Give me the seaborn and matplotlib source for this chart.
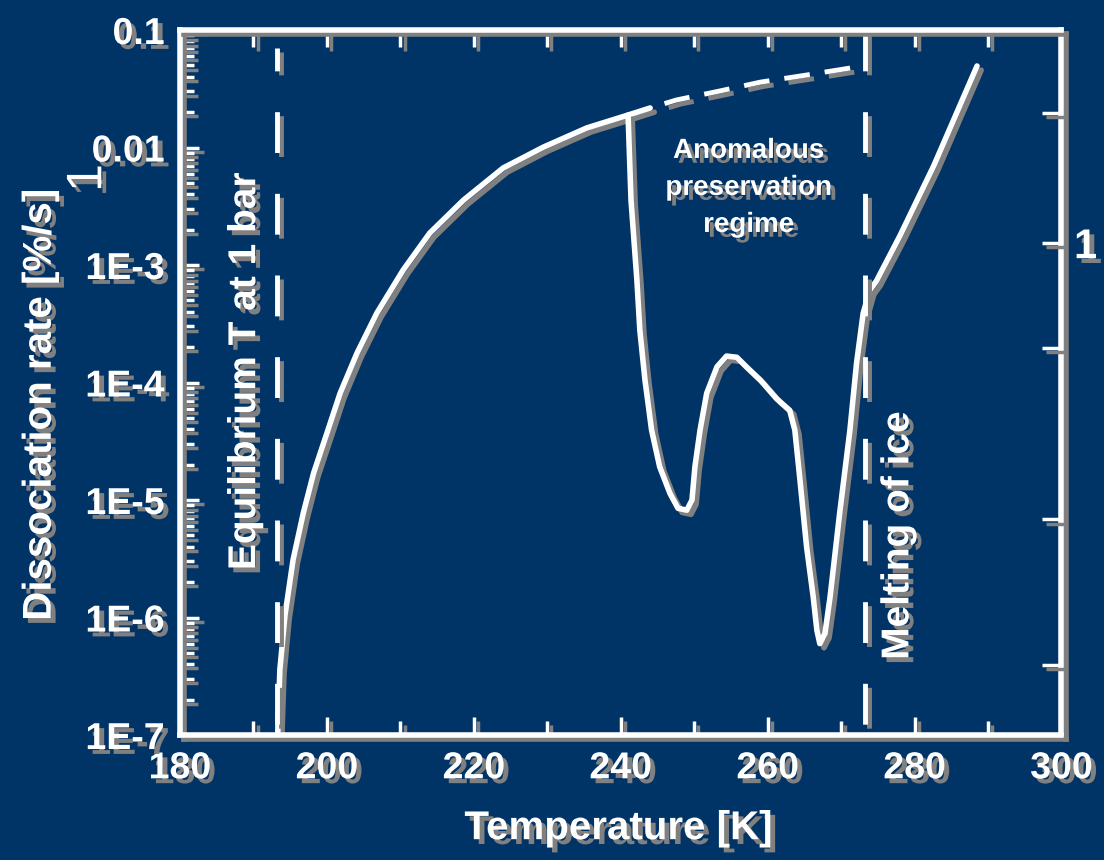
import numpy as np
import pandas as pd
import matplotlib
matplotlib.use("Agg")
import matplotlib.pyplot as plt
import matplotlib.patheffects as pe
from matplotlib.ticker import FixedLocator, FixedFormatter, NullFormatter, LogLocator
import seaborn as sns

BG = "#003366"
SHADE = "#808080"

# normal dissociation branch (from equilibrium T up to ~244 K)
t_low = [193.3, 193.6, 194.3, 195.4, 196.8, 198.2, 200.0, 201.8, 204.1, 206.8, 210.4, 214.0,
         218.6, 224.0, 229.5, 235.4, 241.0, 244.0]
r_low = [1e-7, 3.6e-7, 1.05e-6, 3.1e-6, 7.8e-6, 1.7e-5, 3.7e-5, 8.1e-5, 1.78e-4, 3.9e-4,
         9.1e-4, 1.87e-3, 3.57e-3, 6.7e-3, 1.01e-2, 1.47e-2, 1.89e-2, 2.17e-2]

# anomalous preservation regime and above melting
t_high = [241.0, 241.4, 242.2, 242.6, 243.3, 244.2, 245.3, 246.7, 247.8, 249.0, 249.7, 250.1, 250.8,
          251.7, 253.1, 254.4, 255.8, 257.1, 259.0, 261.2, 263.0, 263.7, 264.4, 265.3, 266.2, 266.7,
          267.1, 267.8, 268.5, 269.8, 271.2, 272.1, 273.0, 273.9, 274.8, 278.0, 282.6, 288.5]
r_high = [1.89e-2, 3.57e-3, 7.45e-4, 2.8e-4, 1.05e-4, 3.94e-5, 1.92e-5, 1.14e-5, 8.5e-6, 8.2e-6,
          1.0e-5, 1.92e-5, 3.94e-5, 8.1e-5, 1.36e-4, 1.68e-4, 1.64e-4, 1.36e-4, 1.05e-4, 7.3e-5,
          5.8e-5, 3.94e-5, 1.48e-5, 4.0e-6, 1.5e-6, 7.8e-7, 6.0e-7, 7.3e-7, 1.5e-6, 7.7e-6, 3.94e-5,
          1.46e-4, 3.88e-4, 6.1e-4, 7.3e-4, 1.77e-3, 6.97e-3, 4.94e-2]

# extrapolation of the normal branch (dashed)
t_extra = [244.0, 247.6, 253.5, 259.0, 265.3, 270.8, 272.8]
r_extra = [2.17e-2, 2.54e-2, 3.03e-2, 3.6e-2, 4.14e-2, 4.7e-2, 4.94e-2]

t_equil = 193.2
t_melt = 273.2

x_major = [180, 200, 220, 240, 260, 280, 300]
x_minor = [190, 210, 230, 250, 270, 290]
x_top = [190, 200, 210, 220, 230, 240, 250, 260, 270, 280, 290]
y_major = [1e-7, 1e-6, 1e-5, 1e-4, 1e-3, 1e-2, 1e-1]
y_labels = ["1E-7", "1E-6", "1E-5", "1E-4", "1E-3", "0.01", "0.1"]
right_ticks = [1.96e-2, 1.55e-3, 1.97e-4, 6.84e-6, 3.96e-7]
right_labels = ["", "1", "", "", ""]

low = pd.DataFrame({"T": t_low, "rate": r_low})
high = pd.DataFrame({"T": t_high, "rate": r_high})
extra = pd.DataFrame({"T": t_extra, "rate": r_extra})

sns.set_theme(style="ticks", rc={"axes.facecolor": BG, "figure.facecolor": BG,
                                 "axes.edgecolor": "white", "xtick.color": "white",
                                 "ytick.color": "white", "text.color": "white"})
plt.rcParams['font.family'] = ['Liberation Sans', 'DejaVu Sans']

txt_fx = [pe.withSimplePatchShadow(offset=(3.5, -3.5), shadow_rgbFace=SHADE, alpha=1)]
line_fx = [pe.SimpleLineShadow(offset=(3, -3), shadow_color=SHADE, alpha=1), pe.Normal()]

fig = plt.figure(figsize=(11.04, 8.6), dpi=100)
ax = fig.add_axes([0.1630, 0.1453, 0.7985, 0.8198])
ax.set_yscale("log")
ax.set_xlim(180, 300)
ax.set_ylim(1e-7, 0.1)

sns.lineplot(data=low, x="T", y="rate", sort=False, estimator=None, color="white",
             lw=4, path_effects=line_fx, ax=ax)
sns.lineplot(data=high, x="T", y="rate", sort=False, estimator=None, color="white",
             lw=4, path_effects=line_fx, ax=ax)
ax.plot(extra["T"], extra["rate"], color="white", lw=3.5, linestyle=(5.3, (5.3, 3.1)),
        path_effects=line_fx)
ax.plot([t_equil, t_equil], [0.07, 1e-7], color="white", lw=3.5, linestyle=(3.7, (8.4, 8.4)),
        path_effects=line_fx)
ax.plot([t_melt, t_melt], [0.1, 1e-7], color="white", lw=3.5, linestyle=(0, (8.4, 8.4)),
        path_effects=line_fx)

ax.xaxis.set_major_locator(FixedLocator(x_major))
ax.xaxis.set_minor_locator(FixedLocator(x_minor))
ax.yaxis.set_major_locator(FixedLocator(y_major))
ax.yaxis.set_major_formatter(FixedFormatter(y_labels))
ax.yaxis.set_minor_locator(LogLocator(base=10, subs=np.arange(2, 10), numticks=20))
ax.yaxis.set_minor_formatter(NullFormatter())
ax.set_xlabel("")
ax.set_ylabel("")

ax.tick_params(axis="both", which="major", direction="in", width=2.5, labelsize=27,
               top=False, right=False, pad=11)
ax.tick_params(axis="x", which="major", length=13)
ax.tick_params(axis="y", which="major", length=14)
ax.tick_params(axis="both", which="minor", direction="in", width=2.5, length=10,
               top=False, right=False)

for sp in ax.spines.values():
    sp.set_visible(True)
    sp.set_linewidth(4)
    sp.set_color("white")
    sp.set_path_effects(line_fx)

# top ticks every 10 K
top = ax.secondary_xaxis("top")
top.xaxis.set_major_locator(FixedLocator(x_top))
top.xaxis.set_major_formatter(NullFormatter())
top.tick_params(direction="in", length=12, width=2.5, color="white")
for sp in top.spines.values():
    sp.set_visible(False)

# right-hand axis
ax2 = ax.twinx()
ax2.set_yscale("log")
ax2.set_ylim(1e-7, 0.1)
ax2.yaxis.set_major_locator(FixedLocator(right_ticks))
ax2.yaxis.set_major_formatter(FixedFormatter(right_labels))
ax2.yaxis.set_minor_locator(FixedLocator([]))
ax2.tick_params(axis="y", direction="in", length=14, width=2.5, labelsize=30, pad=9, colors="white")
for sp in ax2.spines.values():
    sp.set_visible(False)
ax2.grid(False)

for a in (ax, top, ax2):
    for axis in (a.xaxis, a.yaxis):
        for tk in axis.get_major_ticks() + axis.get_minor_ticks():
            tk.tick1line.set_path_effects(line_fx)
            tk.tick2line.set_path_effects(line_fx)
for lbl in ax.get_xticklabels() + ax.get_yticklabels() + ax2.get_yticklabels():
    lbl.set_fontweight("bold")
    lbl.set_path_effects(txt_fx)

ax.text(0.074, 0.516, "Equilibrium T at 1 bar", rotation=90, fontsize=28, fontweight="bold",
        ha="center", va="center", transform=ax.transAxes, path_effects=txt_fx)
ax.text(0.815, 0.283, "Melting of ice", rotation=90, fontsize=28, fontweight="bold",
        ha="center", va="center", transform=ax.transAxes, path_effects=txt_fx)
ax.text(0.645, 0.776, "Anomalous\npreservation\nregime", fontsize=20, fontweight="bold",
        ha="center", va="center", linespacing=1.55, transform=ax.transAxes, path_effects=txt_fx)

fig.text(0.036, 0.529, "Dissociation rate [%/s]", rotation=90, fontsize=29, fontweight="bold",
         ha="center", va="center", path_effects=txt_fx)
fig.text(0.080, 0.793, "1", rotation=90, fontsize=36,
         ha="center", va="center", path_effects=txt_fx)
fig.text(0.56, 0.037, "Temperature [K]", fontsize=29, fontweight="bold",
         ha="center", va="center", path_effects=txt_fx)

fig.savefig("out.png", dpi=100, facecolor=BG)
